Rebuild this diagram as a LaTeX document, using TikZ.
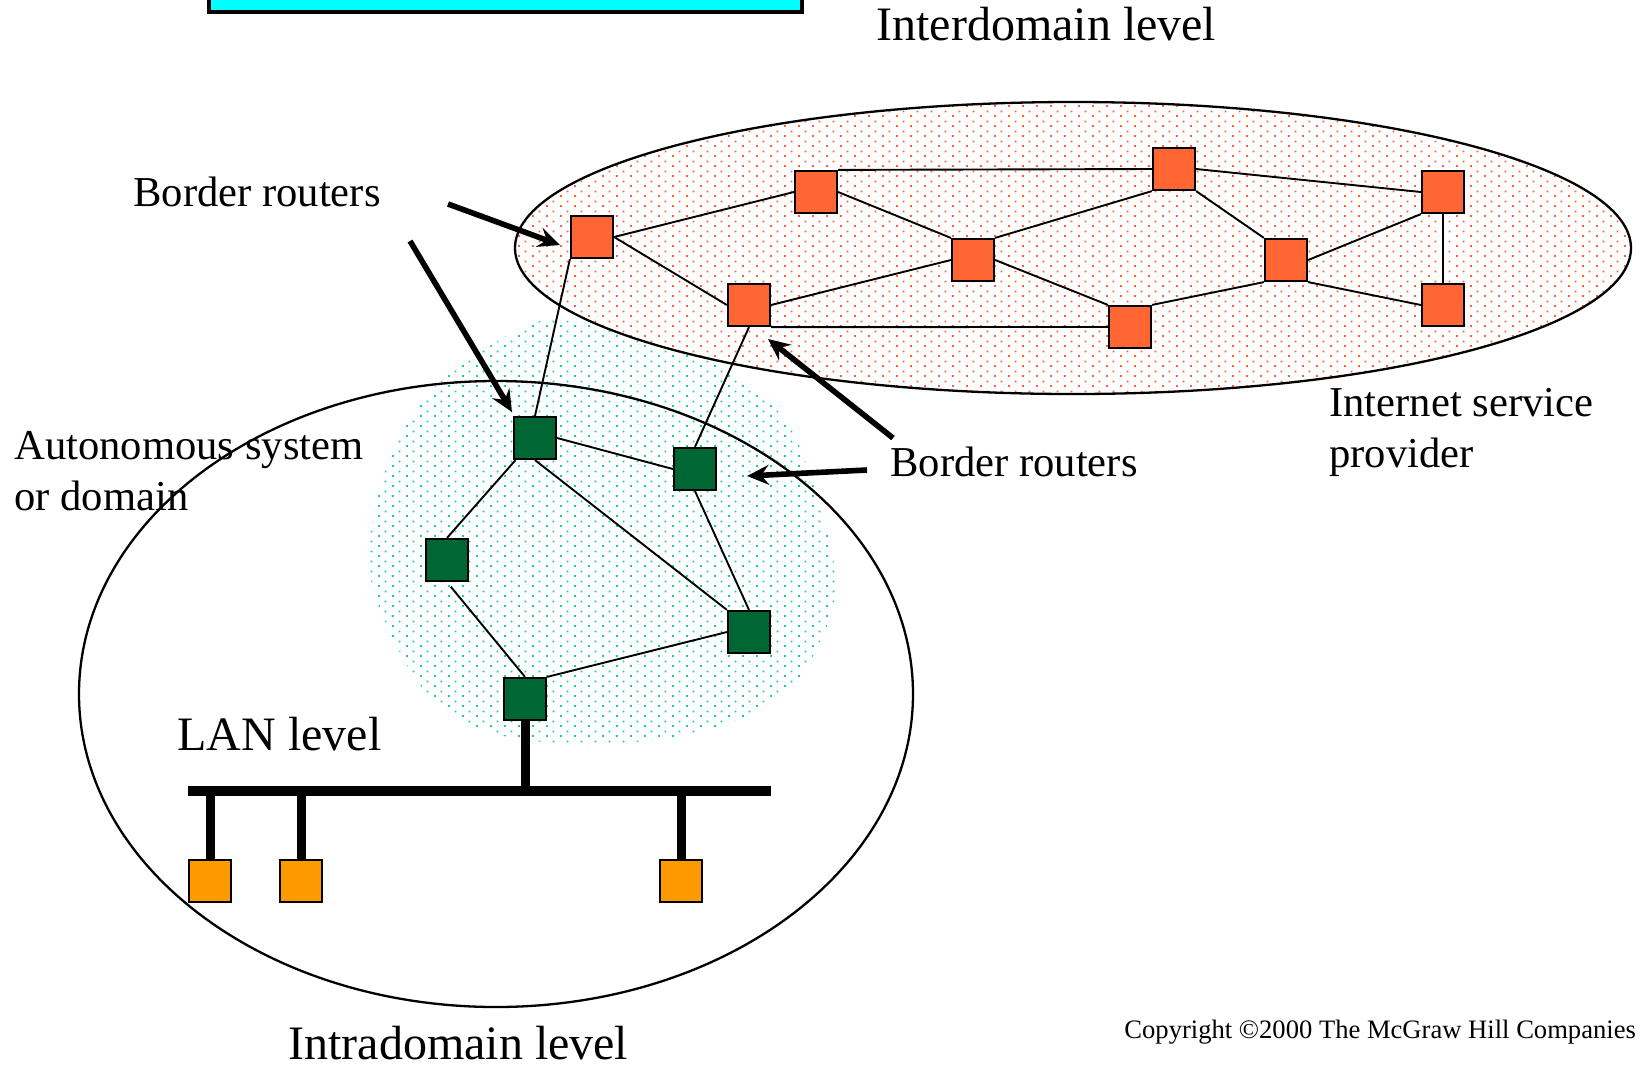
\documentclass[tikz,border=0pt]{standalone}
\usepackage{fontspec}
\setmainfont{Liberation Serif}
\usetikzlibrary{arrows.meta,patterns}

\definecolor{isporange}{RGB}{255,102,51}
\definecolor{asgreen}{RGB}{0,102,51}
\definecolor{hostorange}{RGB}{255,153,0}
\definecolor{ispdots}{RGB}{255,95,50}
\definecolor{asdots}{RGB}{25,205,150}
\definecolor{boxcyan}{RGB}{0,255,255}

\pgfdeclarepatternformonly{sparsedots}{\pgfqpoint{0pt}{0pt}}{\pgfqpoint{7pt}{5pt}}{\pgfqpoint{7pt}{5pt}}
  {\pgfpathrectangle{\pgfqpoint{0pt}{0pt}}{\pgfqpoint{1pt}{1pt}}
   \pgfpathrectangle{\pgfqpoint{3.5pt}{2.5pt}}{\pgfqpoint{1pt}{1pt}}\pgfusepath{fill}}

\begin{document}
\begin{tikzpicture}[x=0.5pt,y=-0.5pt,
    isp/.style={draw,line width=1.1pt,fill=isporange,minimum size=21pt,inner sep=0pt},
    as/.style={draw,line width=1.1pt,fill=asgreen,minimum size=21pt,inner sep=0pt},
    host/.style={draw,line width=1.1pt,fill=hostorange,minimum size=21pt,inner sep=0pt},
    link/.style={line width=0.95pt},
    lanwire/.style={line width=4.5pt},
    pointer/.style={line width=2.8pt,-{Stealth[length=11pt,width=10pt,inset=4pt]}},
    lbl/.style={font=\fontsize{21.3}{25.5}\selectfont,align=left,inner sep=0pt,anchor=base west},
    lvl/.style={font=\fontsize{24}{28}\selectfont,inner sep=0pt,anchor=base west}]
    \useasboundingbox (0,0) rectangle (1640,1067);

    \draw[line width=2pt,fill=boxcyan] (209,-30) rectangle (802,12);

    \fill[pattern=sparsedots,pattern color=asdots] plot[smooth cycle] coordinates
      {(540,321) (607,327) (657,340) (740,377) (790,427) (823,517) (835,600)
       (790,690) (707,730) (600,745) (500,735) (433,700) (390,633) (368,560)
       (385,470) (423,400) (473,357)};

    \fill[white] (1073,248) ellipse [x radius=558,y radius=146];
    \fill[pattern=sparsedots,pattern color=ispdots] (1073,248) ellipse [x radius=558,y radius=146];
    \draw[line width=1.15pt] (1073,248) ellipse [x radius=558,y radius=146];
    \draw[line width=1.15pt] (496,694) ellipse [x radius=417,y radius=313];

    \node[isp] (A) at (592,237) {};
    \node[isp] (B) at (816,192) {};
    \node[isp] (C) at (1174,169) {};
    \node[isp] (D) at (1443,192) {};
    \node[isp] (E) at (973,260) {};
    \node[isp] (F) at (1286,260) {};
    \node[isp] (G) at (749,305) {};
    \node[isp] (H) at (1130,327) {};
    \node[isp] (I) at (1443,305) {};

    \node[as] (g1) at (535,438) {};
    \node[as] (g2) at (695,469) {};
    \node[as] (g3) at (447,560) {};
    \node[as] (g4) at (749,632) {};
    \node[as] (g5) at (525,699) {};

    \node[host] (h1) at (210,881) {};
    \node[host] (h2) at (301,881) {};
    \node[host] (h3) at (681,881) {};

    \draw[link] (A.east) -- (B.west);
    \draw[link] (A.east) -- (G.west);
    \draw[link] (B.north east) -- (C.west);
    \draw[link] (B.east) -- (E.north west);
    \draw[link] (C.south west) -- (E.north east);
    \draw[link] (C.east) -- (D.west);
    \draw[link] (C.south east) -- (F.north west);
    \draw[link] (G.east) -- (E.west);
    \draw[link] (E.east) -- (H.north west);
    \draw[link] (G.south east) -- (H.west);
    \draw[link] (H.north east) -- (F.south west);
    \draw[link] (F.east) -- (D.south west);
    \draw[link] (F.south east) -- (I.west);
    \draw[link] (D) -- (I);
    \draw[link] (A.south west) -- (g1.north);
    \draw[link] (G.south) -- (g2.north);
    \draw[link] (g1.east) -- (g2.west);
    \draw[link] (g1) -- (g3.north);
    \draw[link] (g1.south) -- (g4.north west);
    \draw[link] (g2.south) -- (g4.north);
    \draw[link,shorten <=3pt] (g3.south) -- (g5.north);
    \draw[link] (g5.north east) -- (g4.west);

    \coordinate (busL) at (188,791);
    \coordinate (busR) at (771,791);
    \draw[line width=5pt] (busL) -- (busR);
    \draw[lanwire] (g5.south) -- (g5 |- busL);
    \foreach \h in {h1,h2,h3}
      \draw[lanwire] (\h.north) -- (\h |- busL);

    \coordinate (s1) at (448,204);  \coordinate (t1) at (560,245);
    \coordinate (s2) at (410,241);  \coordinate (t2) at (512,412);
    \coordinate (s3) at (893,438);  \coordinate (t3) at (768,339);
    \coordinate (s4) at (867,470);  \coordinate (t4) at (747,476);
    \draw[pointer] (s1) -- (t1);
    \draw[pointer] (s2) -- (t2);
    \draw[pointer] (s3) -- (t3);
    \draw[pointer] (s4) -- (t4);

    \node[lvl] (inter) at (876,40) {Interdomain level};
    \node[lvl] (intra) at (288,1059) {Intradomain level};
    \node[lvl] (lan) at (177,750) {LAN level};
    \node[lbl] (br1) at (133,206) {Border routers};
    \node[lbl] (br2) at (890,476) {Border routers};
    \node[lbl] (asys) at (14,510) {Autonomous system\\or domain};
    \node[lbl] (isp) at (1329,467) {Internet service\\provider};
    \node[font=\fontsize{13.3}{16}\selectfont,inner sep=0pt,anchor=base west] (copy) at (1124,1038)
      {Copyright \textcopyright2000 The McGraw Hill Companies};
\end{tikzpicture}
\end{document}
